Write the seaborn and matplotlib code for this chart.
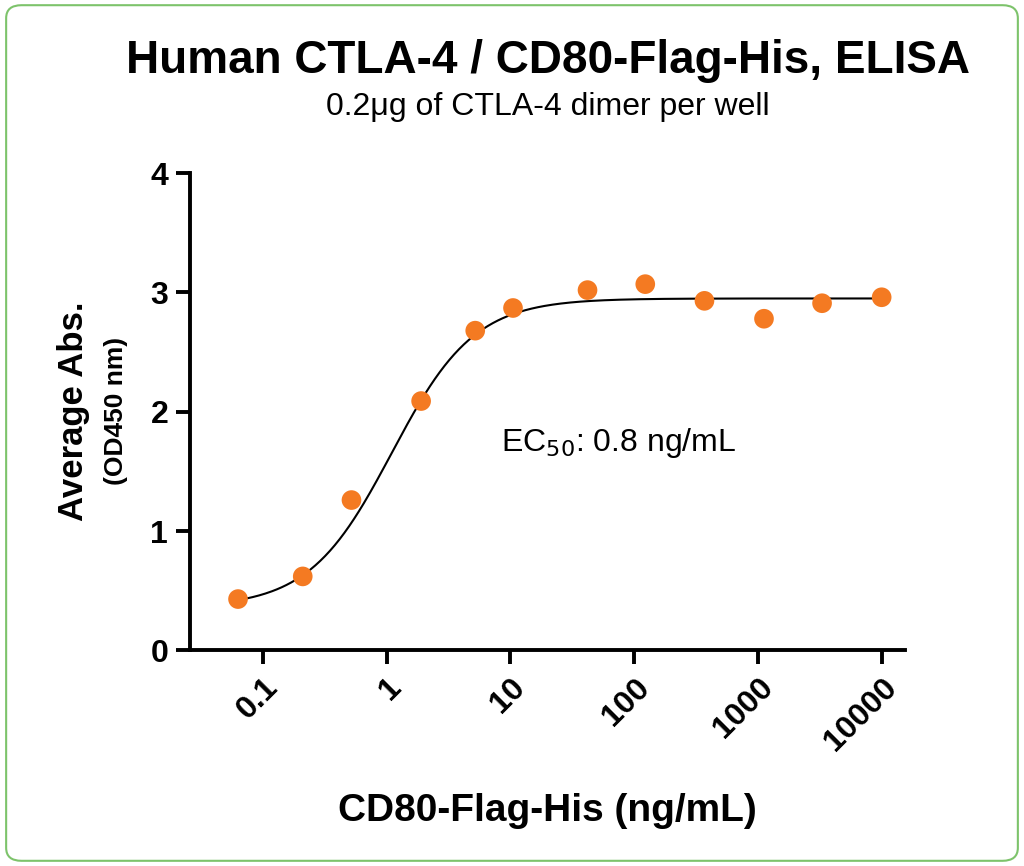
import numpy as np
import matplotlib
matplotlib.use("Agg")
import matplotlib.pyplot as plt
import seaborn as sns
from matplotlib.patches import FancyBboxPatch

conc = [0.063, 0.21, 0.52, 1.9, 5.2, 10.5, 42, 123, 370, 1120, 3300, 10000]
absorb = [0.43, 0.62, 1.26, 2.09, 2.68, 2.87, 3.02, 3.07, 2.93, 2.78, 2.91, 2.96]
fit_bottom, fit_top, fit_ec50, fit_hill = 0.36, 2.95, 1.1, 1.3
tick_vals = [0.1, 1, 10, 100, 1000, 10000]
tick_labels = ["0.1", "1", "10", "100", "1000", "10000"]

plt.rcParams["font.family"] = "Liberation Sans"
fig = plt.figure(figsize=(10.24, 8.66), dpi=100)
fig.patches.append(FancyBboxPatch((0.006, 0.006), 0.988, 0.988, boxstyle="round,pad=0,rounding_size=0.015",
                                  transform=fig.transFigure, fill=False, edgecolor="#7dc36b", linewidth=1.5))
ax = fig.add_axes([0.186, 0.249, 0.698, 0.551])

xs = np.logspace(np.log10(conc[0]), np.log10(conc[-1]), 400)
ys = fit_bottom + (fit_top - fit_bottom) / (1 + (fit_ec50 / xs) ** fit_hill)
sns.lineplot(x=xs, y=ys, ax=ax, color="black", linewidth=1.5)
sns.scatterplot(x=conc, y=absorb, ax=ax, color="#f47a22", s=200, edgecolor="none", zorder=3)

ax.set_xscale("log")
ax.set_xlim(0.026, 15500)
ax.set_ylim(0, 4)
ax.set_xticks(tick_vals)
ax.set_xticklabels(tick_labels, rotation=45, ha="right", rotation_mode="anchor", fontsize=23, fontweight="bold")
ax.minorticks_off()
ax.set_yticks([0, 1, 2, 3, 4])
ax.set_yticklabels(["0", "1", "2", "3", "4"], fontsize=23, fontweight="bold")
for s in ["top", "right"]:
    ax.spines[s].set_visible(False)
for s in ["left", "bottom"]:
    ax.spines[s].set_linewidth(2.8)
ax.tick_params(width=2.8, length=10, direction="out", pad=6)

ax.set_xlabel("CD80-Flag-His (ng/mL)", fontsize=28, fontweight="bold", labelpad=26)
ax.set_ylabel("")
fig.text(0.072, 0.525, "Average Abs.", rotation=90, fontsize=25, fontweight="bold", ha="center", va="center")
fig.text(0.113, 0.525, "(OD450 nm)", rotation=90, fontsize=19, fontweight="bold", ha="center", va="center")
fig.text(0.535, 0.93, "Human CTLA-4 / CD80-Flag-His, ELISA", fontsize=33, fontweight="bold", ha="center", va="center")
fig.text(0.535, 0.877, "0.2μg of CTLA-4 dimer per well", fontsize=23, ha="center", va="center")
ax.text(0.434, 0.435, r"EC$_{50}$: 0.8 ng/mL", transform=ax.transAxes, fontsize=23, ha="left", va="center")

fig.savefig("out.png", dpi=100)
